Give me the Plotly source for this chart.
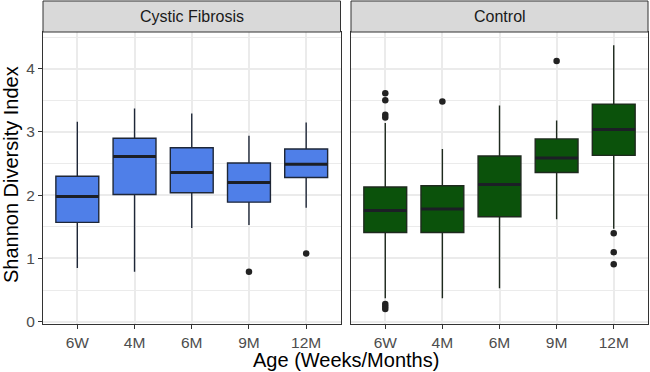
import plotly.graph_objects as go

# ---------------- data ----------------
categories = ["6W", "4M", "6M", "9M", "12M"]
panels = ["Cystic Fibrosis", "Control"]

cf_lower = [0.85, 0.79, 1.48, 1.53, 1.80]
cf_q1 = [1.57, 2.01, 2.04, 1.89, 2.28]
cf_median = [1.98, 2.61, 2.36, 2.20, 2.49]
cf_q3 = [2.30, 2.90, 2.75, 2.51, 2.73]
cf_upper = [3.16, 3.37, 3.29, 2.94, 3.15]
cf_outliers = [[], [], [], [0.79], [1.08]]

ctrl_lower = [0.37, 0.37, 0.53, 1.62, 1.47]
ctrl_q1 = [1.41, 1.41, 1.66, 2.36, 2.63]
ctrl_median = [1.76, 1.78, 2.17, 2.59, 3.04]
ctrl_q3 = [2.13, 2.15, 2.62, 2.89, 3.44]
ctrl_upper = [3.14, 2.73, 3.42, 3.18, 4.37]
ctrl_outliers = [[3.61, 3.50, 3.27, 3.23, 0.28, 0.24, 0.20], [3.48], [], [4.12], [1.40, 1.10, 0.91]]

# ---------------- style ----------------
FONT = "Liberation Sans, Arial, sans-serif"
BOX_W = 0.75
GRID = "#EBEBEB"
DARK = "#333333"
TICKC = "#4D4D4D"
TICK_SIZE = 15.5
W, H = 650, 372
ML, MR, MT, MB = 43, 2, 32, 48
plot_w = W - ML - MR
plot_h = H - MT - MB
dom_left = [0, (340.5 - ML) / plot_w]
dom_right = [(351 - ML) / plot_w, 1]
strip_top = 1 + 31 / plot_h

positions = list(range(1, len(categories) + 1))

fig = go.Figure()

groups = [
    ("x", "y", cf_lower, cf_q1, cf_median, cf_q3, cf_upper, cf_outliers, "#4F7FE8", "#1E2738"),
    ("x2", "y2", ctrl_lower, ctrl_q1, ctrl_median, ctrl_q3, ctrl_upper, ctrl_outliers, "#0B520B", "#1E2A1E"),
]

for xa, ya, lo, q1, med, q3, up, outs, fill, edge in groups:
    fig.add_trace(go.Box(
        x=positions, q1=q1, median=med, q3=q3, lowerfence=lo, upperfence=up,
        fillcolor=fill, line=dict(color=edge, width=1.4), width=BOX_W,
        whiskerwidth=0, boxpoints=False, xaxis=xa, yaxis=ya, showlegend=False,
        hoverinfo="skip",
    ))
    # thick median bars (ggplot style)
    mx, my = [], []
    for p, m in zip(positions, med):
        mx += [p - BOX_W / 2, p + BOX_W / 2, None]
        my += [m, m, None]
    fig.add_trace(go.Scatter(x=mx, y=my, mode="lines", line=dict(color="#1C1F26", width=3),
                             xaxis=xa, yaxis=ya, showlegend=False, hoverinfo="skip"))
    ox, oy = [], []
    for p, vals in zip(positions, outs):
        for v in vals:
            ox.append(p)
            oy.append(v)
    fig.add_trace(go.Scatter(x=ox, y=oy, mode="markers",
                             marker=dict(color="#222222", size=6.5, line=dict(width=0)),
                             xaxis=xa, yaxis=ya, showlegend=False, hoverinfo="skip"))

xcommon = dict(
    range=[0.4, 5.6], tickvals=positions, ticktext=categories,
    ticks="outside", ticklen=4, tickcolor=DARK, tickwidth=1,
    showgrid=True, gridcolor=GRID, gridwidth=1.5, zeroline=False,
    showline=True, mirror=True, linecolor=DARK, linewidth=1,
    ticklabelstandoff=0,
    tickfont=dict(family=FONT, size=TICK_SIZE, color=TICKC),
)
ycommon = dict(
    range=[-0.036, 4.58], tickvals=[0, 1, 2, 3, 4],
    showgrid=True, gridcolor=GRID, gridwidth=1.5, zeroline=False,
    showline=True, mirror=True, linecolor=DARK, linewidth=1,
    minor=dict(dtick=0.5, tick0=0, showgrid=True, gridcolor=GRID, gridwidth=0.8, ticks=""),
    tickfont=dict(family=FONT, size=TICK_SIZE, color=TICKC),
)

fig.update_layout(
    width=W, height=H, autosize=False,
    margin=dict(l=ML, r=MR, t=MT, b=MB),
    paper_bgcolor="white", plot_bgcolor="white",
    showlegend=False,
    xaxis=dict(domain=dom_left, anchor="y", **xcommon),
    xaxis2=dict(domain=dom_right, anchor="y2", **xcommon),
    yaxis=dict(anchor="x", ticks="outside", ticklen=4, tickcolor=DARK, tickwidth=1, **ycommon),
    yaxis2=dict(anchor="x2", ticks="", showticklabels=False, matches="y", **ycommon),
)

shapes = []
annotations = []
for dom, name in zip([dom_left, dom_right], panels):
    shapes.append(dict(type="rect", xref="paper", yref="paper", x0=dom[0], x1=dom[1],
                       y0=1, y1=strip_top, fillcolor="#D9D9D9", line=dict(color=DARK, width=1),
                       layer="above"))
    annotations.append(dict(text=name, xref="paper", yref="paper", x=(dom[0] + dom[1]) / 2,
                            y=(1 + strip_top) / 2, xanchor="center", yanchor="middle",
                            showarrow=False, font=dict(family=FONT, size=16, color="#1A1A1A")))

annotations.append(dict(text="Age (Weeks/Months)", xref="paper", yref="paper", x=0.5,
                        y=-36 / plot_h, xanchor="center", yanchor="middle",
                        showarrow=False, font=dict(family=FONT, size=20, color="black")))
annotations.append(dict(text="Shannon Diversity Index", xref="paper", yref="paper",
                        x=(11 - ML) / plot_w, y=0.51, xanchor="center", yanchor="middle",
                        textangle=-90, showarrow=False,
                        font=dict(family=FONT, size=20, color="black")))

fig.update_layout(shapes=shapes, annotations=annotations)

fig.write_html("out.html", config={"displayModeBar": False},
               post_script="document.body.style.margin='0';document.body.style.padding='0';")
